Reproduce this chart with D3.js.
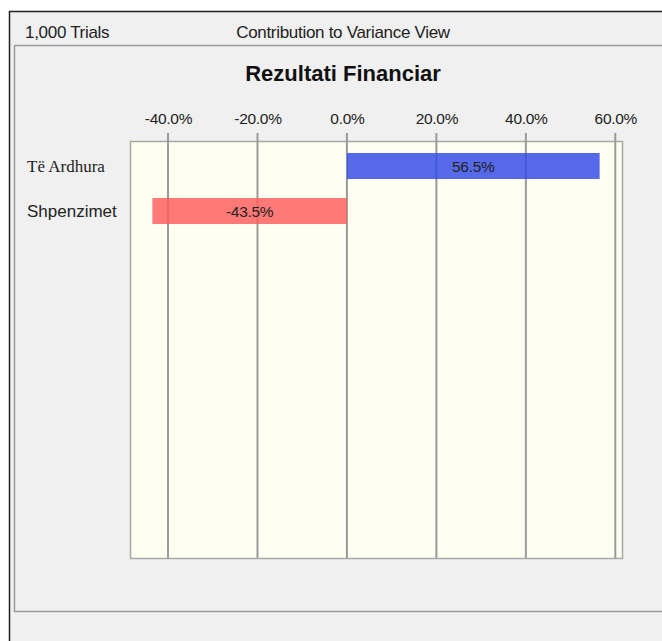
<!DOCTYPE html>
<html>
<head>
<meta charset="utf-8">
<script src="https://cdn.jsdelivr.net/npm/d3@7"></script>
<style>
  body { margin: 0; background: #fff; }
  svg { display: block; }
  .lbl { font-family: "Liberation Sans", Arial, sans-serif; }
</style>
</head>
<body>
<div id="chart"></div>
<script>
var categories = ["Të Ardhura", "Shpenzimet"]
var contributions = [56.5, -43.5]
var tickValues = [-40, -20, 0, 20, 40, 60]
var headerLeft = "1,000 Trials"
var headerTitle = "Contribution to Variance View"
var chartTitle = "Rezultati Financiar"

var W = 662, H = 641
var plot = {left: 130, right: 622, top: 141, bottom: 558}

// d3 uses a real minus sign, the original shows a plain hyphen
var pct = function(d) { return d3.format(".1f")(d).replace("\u2212", "-") + "%" }

var svg = d3.select("#chart").append("svg")
    .attr("width", W)
    .attr("height", H)

// window frame
svg.append("rect").attr("x", 9.5).attr("y", 11.5).attr("width", W).attr("height", H)
    .attr("fill", "#f0f0f0").attr("stroke", "#222").attr("stroke-width", 1.5)

svg.append("text").attr("class", "lbl")
    .attr("x", 25).attr("y", 38)
    .attr("font-size", 17).attr("fill", "#222").attr("letter-spacing", -0.3)
    .text(headerLeft)

svg.append("text").attr("class", "lbl")
    .attr("x", 343).attr("y", 38).attr("text-anchor", "middle")
    .attr("font-size", 17).attr("fill", "#222").attr("letter-spacing", -0.3)
    .text(headerTitle)

// inner panel
svg.append("rect").attr("x", 14.5).attr("y", 45.5).attr("width", W).attr("height", 566)
    .attr("fill", "#f0f0f0").attr("stroke", "#9a9a9a").attr("stroke-width", 1.5)

svg.append("text")
    .attr("x", 343).attr("y", 81).attr("text-anchor", "middle")
    .attr("font-family", "Liberation Sans, Arial, sans-serif")
    .attr("font-size", 22).attr("font-weight", "bold").attr("fill", "#111")
    .text(chartTitle)

var x = d3.scaleLinear().domain([-48.5, 61.5]).range([plot.left, plot.right])
var y = d3.scaleBand().domain(categories).range([143.5, 233.5])
    .paddingInner(0.4222).paddingOuter(0.2111)

svg.append("rect")
    .attr("x", plot.left + 0.5).attr("y", plot.top + 0.5)
    .attr("width", plot.right - plot.left).attr("height", plot.bottom - plot.top)
    .attr("fill", "#fefef1").attr("stroke", "#a8a8a8").attr("stroke-width", 1.5)

// grid lines with ticks sticking out on top
svg.append("g").selectAll("line")
    .data(tickValues)
    .join("line")
      .attr("x1", function(d) { return x(d) }).attr("x2", function(d) { return x(d) })
      .attr("y1", plot.top - 8).attr("y2", plot.bottom)
      .attr("stroke", "#9a9a9a").attr("stroke-width", 2)

var axis = svg.append("g")
    .attr("transform", "translate(0," + (plot.top - 8) + ")")
    .call(d3.axisTop(x).tickValues(tickValues).tickSize(0).tickPadding(9)
      .tickFormat(pct))
axis.select(".domain").remove()
axis.selectAll("text")
    .attr("class", "lbl")
    .attr("font-size", 15.5).attr("fill", "#222").attr("letter-spacing", -0.3)

// bars
svg.append("g").selectAll("rect")
    .data(contributions)
    .join("rect")
      .attr("x", function(d) { return x(Math.min(0, d)) })
      .attr("y", function(d, i) { return y(categories[i]) })
      .attr("width", function(d) { return Math.abs(x(d) - x(0)) })
      .attr("height", y.bandwidth())
      .attr("fill", function(d) { return d >= 0 ? "#2f48e8" : "#ff5c5c" })
      .attr("fill-opacity", 0.82)

svg.append("g").selectAll("text")
    .data(contributions)
    .join("text")
      .attr("class", "lbl")
      .attr("x", function(d) { return (x(d) + x(0)) / 2 })
      .attr("y", function(d, i) { return y(categories[i]) + y.bandwidth() / 2 + 6 })
      .attr("text-anchor", "middle")
      .attr("font-size", 15.5).attr("fill", "#222").attr("letter-spacing", -0.3)
      .text(pct)

// category labels
svg.append("g").selectAll("text")
    .data(categories)
    .join("text")
      .attr("x", 27)
      .attr("y", function(d) { return y(d) + y.bandwidth() / 2 + 6 })
      .attr("font-family", function(d, i) { return i == 0 ? "Liberation Serif, serif" : "Liberation Sans, sans-serif" })
      .attr("font-size", 17)
      .attr("fill", "#222")
      .text(function(d) { return d })
</script>
</body>
</html>
